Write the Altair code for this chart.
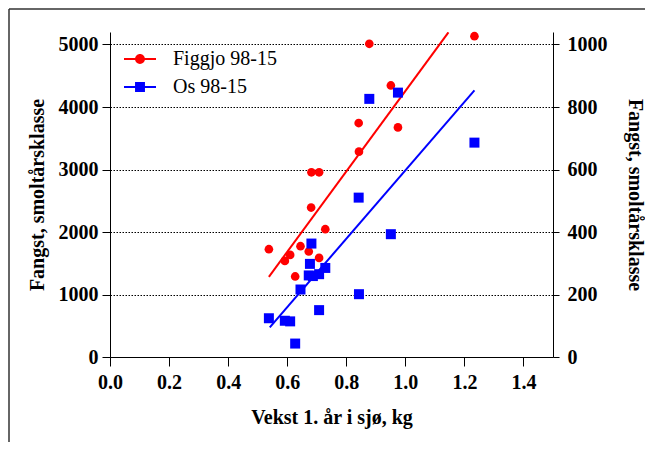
import altair as alt
import pandas as pd

# Figgjo 98-15 (left axis)
red_x = [0.538, 0.592, 0.610, 0.627, 0.645, 0.673, 0.681, 0.682, 0.708, 0.708, 0.729,
         0.842, 0.843, 0.878, 0.951, 0.975, 1.234]
red_y = [1725, 1538, 1634, 1289, 1773, 1688, 2391, 2955, 2955, 1586, 2045,
         3743, 3286, 5011, 4345, 3674, 5133]
# Os 98-15 (right axis)
blue_x = [0.538, 0.592, 0.610, 0.627, 0.645, 0.677, 0.682, 0.673, 0.687, 0.708, 0.729,
          0.708, 0.842, 0.843, 0.878, 0.951, 0.975, 1.234]
blue_y = [124, 116, 114, 43, 216, 298, 363, 261, 259, 265, 285,
          150, 510, 201, 826, 393, 846, 686]
# fitted lines (end points)
red_fit_x = [0.538, 1.146]
red_fit_y = [1283, 5195]
blue_fit_x = [0.541, 1.234]
blue_fit_y = [95, 853]

series = ["Figgjo 98-15", "Os 98-15"]
x_ticks = [0.0, 0.2, 0.4, 0.6, 0.8, 1.0, 1.2, 1.4]
left_ticks = [0, 1000, 2000, 3000, 4000, 5000]
right_ticks = [0, 200, 400, 600, 800, 1000]

red_df = pd.DataFrame({"x": red_x, "y": red_y, "series": series[0]})
blue_df = pd.DataFrame({"x": blue_x, "y": blue_y, "series": series[1]})
red_fit = pd.DataFrame({"x": red_fit_x, "y": red_fit_y, "series": series[0]})
blue_fit = pd.DataFrame({"x": blue_fit_x, "y": blue_fit_y, "series": series[1]})
legend_df = pd.DataFrame({"series": series})

FONT = "Liberation Serif"

bar = "M-1,-0.0625L1,-0.0625L1,0.0625L-1,0.0625Z"
circ_path = bar + "M-0.31,0A0.31,0.31,0,1,1,0.31,0A0.31,0.31,0,1,1,-0.31,0Z"
sq_path = bar + "M-0.31,-0.31L0.31,-0.31L0.31,0.31L-0.31,0.31Z"

legend = alt.Legend(title=None, orient="none", legendX=14, legendY=11)

col_scale = alt.Scale(domain=series, range=["#ff0000", "#0000ff"])
color_enc = alt.Color("series:N", scale=col_scale, legend=legend)

X = alt.X("x:Q", scale=alt.Scale(domain=[0, 1.5], nice=False),
          axis=alt.Axis(values=x_ticks, format=".1f", title="Vekst 1. år i sjø, kg",
                        grid=False, labelFlush=False, tickSize=9, labelPadding=6,
                        titlePadding=15))

Y_left = alt.Y("y:Q", scale=alt.Scale(domain=[0, 5200], nice=False),
               axis=alt.Axis(values=left_ticks, format="d", title="Fangst, smoltårsklasse",
                             orient="left", grid=True, gridColor="black", gridDash=[1.5, 1.5],
                             gridWidth=1, tickSize=8, labelPadding=4, titlePadding=11))
Y_right = alt.Y("y:Q", scale=alt.Scale(domain=[0, 1040], nice=False),
                axis=alt.Axis(values=right_ticks, format="d", title="Fangst, smoltårsklasse",
                              orient="right", grid=False, tickSize=6, labelPadding=8,
                              titlePadding=17))

red_pts = alt.Chart(red_df).mark_point(shape="circle", filled=True, size=75, opacity=1).encode(
    x=X, y=Y_left, color=color_enc)
red_line = alt.Chart(red_fit).mark_line(strokeWidth=2, clip=True).encode(
    x=X, y=Y_left, color=color_enc)
blue_pts = alt.Chart(blue_df).mark_point(shape="square", filled=True, size=100, opacity=1).encode(
    x=X, y=Y_right, color=color_enc)
blue_line = alt.Chart(blue_fit).mark_line(strokeWidth=2, clip=True).encode(
    x=X, y=Y_right, color=color_enc)

legend_layer = alt.Chart(legend_df).mark_point(filled=True, opacity=0, size=1).encode(
    color=color_enc,
    shape=alt.Shape("series:N", scale=alt.Scale(domain=series, range=[circ_path, sq_path]),
                    legend=legend),
)

left = alt.layer(red_pts, red_line)
right = alt.layer(blue_pts, blue_line)

one = alt.Data(values=[{}])
frame_top = alt.Chart(one).mark_rule(color="#333", strokeWidth=1.5).encode(
    x=alt.value(-101), x2=alt.value(560), y=alt.value(-23))
frame_left = alt.Chart(one).mark_rule(color="#333", strokeWidth=1.5).encode(
    x=alt.value(-101), y=alt.value(-23), y2=alt.value(420))

chart = alt.layer(legend_layer, left, right, frame_top, frame_left).resolve_scale(
    y="independent"
).properties(
    width=443, height=325,
    autosize=alt.AutoSizeParams(type="none"),
    padding={"left": 102, "top": 24, "right": 92, "bottom": 85},
).configure_view(stroke="transparent").configure_axis(
    domainColor="black", tickColor="black", domainWidth=1, tickWidth=1,
    labelFont=FONT, labelFontSize=20, labelFontWeight="bold", labelColor="black",
    titleFont=FONT, titleFontSize=20, titleFontWeight="bold", titleColor="black",
).configure_legend(
    padding=0, symbolSize=1024, rowPadding=2, labelOffset=17, symbolOpacity=1,
    symbolStrokeWidth=0, labelFont=FONT, labelFontSize=20, labelFontWeight="normal",
    labelColor="black", labelLimit=300,
)

chart.save("out.html", embed_options={"renderer": "svg", "actions": False})
